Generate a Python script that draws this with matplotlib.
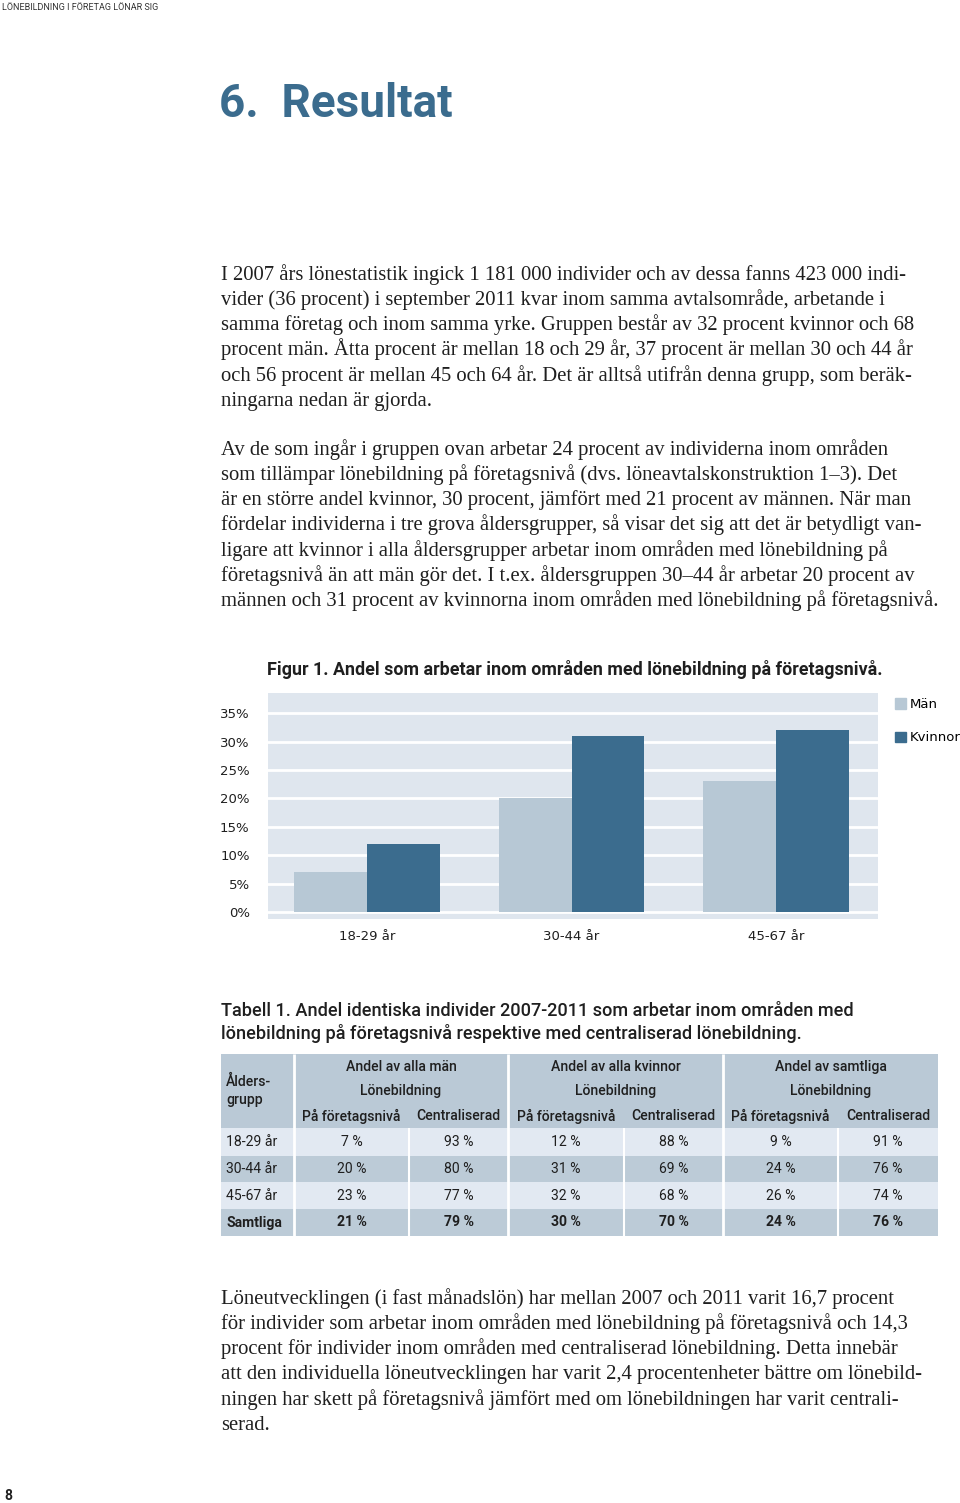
import numpy as np
import matplotlib.pyplot as plt
from matplotlib.patches import Rectangle, Patch

W, H = 960, 1503

# chart data
groups = ["18-29 år", "30-44 år", "45-67 år"]
man = [7, 20, 23]
kvinnor = [12, 31, 32]
yticks = [0, 5, 10, 15, 20, 25, 30, 35]

# table data
row_labels = ["18-29 år", "30-44 år", "45-67 år", "Samtliga"]
man_foretag = [7, 20, 23, 21]
man_central = [93, 80, 77, 79]
kv_foretag = [12, 31, 32, 30]
kv_central = [88, 69, 68, 70]
alla_foretag = [9, 24, 26, 24]
alla_central = [91, 76, 74, 76]
group_heads = ["Andel av alla män", "Andel av alla kvinnor", "Andel av samtliga"]
sub_heads = ["På företagsnivå", "Centraliserad"]

para1 = [
    "I 2007 års lönestatistik ingick 1 181 000 individer och av dessa fanns 423 000 indi-",
    "vider (36 procent) i september 2011 kvar inom samma avtalsområde, arbetande i",
    "samma företag och inom samma yrke. Gruppen består av 32 procent kvinnor och 68",
    "procent män. Åtta procent är mellan 18 och 29 år, 37 procent är mellan 30 och 44 år",
    "och 56 procent är mellan 45 och 64 år. Det är alltså utifrån denna grupp, som beräk-",
    "ningarna nedan är gjorda.",
]
para2 = [
    "Av de som ingår i gruppen ovan arbetar 24 procent av individerna inom områden",
    "som tillämpar lönebildning på företagsnivå (dvs. löneavtalskonstruktion 1–3). Det",
    "är en större andel kvinnor, 30 procent, jämfört med 21 procent av männen. När man",
    "fördelar individerna i tre grova åldersgrupper, så visar det sig att det är betydligt van-",
    "ligare att kvinnor i alla åldersgrupper arbetar inom områden med lönebildning på",
    "företagsnivå än att män gör det. I t.ex. åldersgruppen 30–44 år arbetar 20 procent av",
    "männen och 31 procent av kvinnorna inom områden med lönebildning på företagsnivå.",
]
para3 = [
    "Löneutvecklingen (i fast månadslön) har mellan 2007 och 2011 varit 16,7 procent",
    "för individer som arbetar inom områden med lönebildning på företagsnivå och 14,3",
    "procent för individer inom områden med centraliserad lönebildning. Detta innebär",
    "att den individuella löneutvecklingen har varit 2,4 procentenheter bättre om lönebild-",
    "ningen har skett på företagsnivå jämfört med om lönebildningen har varit centrali-",
    "serad.",
]

blue = "#3b6c8e"
light = "#b7c8d5"
bg = "#dfe6ee"
txt = "#1f1f1f"
sans = "Roboto"
serif = "Liberation Serif"


def fx(x):
    return x / W


def fy(y):
    return 1 - y / H


fig = plt.figure(figsize=(9.6, 15.03), dpi=100)

fig.text(fx(2), fy(7), "LÖNEBILDNING I FÖRETAG LÖNAR SIG", fontsize=6.5,
         family=sans, va="center", color="#333333")
fig.text(fx(219), fy(117), "6.  Resultat", fontsize=33, weight="bold",
         family=sans, color=blue, va="baseline")


def paragraph(lines, y0):
    for i, line in enumerate(lines):
        fig.text(fx(221), fy(y0 + i * 25.15), line, family=serif, fontsize=14.9,
                 color=txt, va="baseline")


paragraph(para1, 280)
paragraph(para2, 455)
paragraph(para3, 1304)

# figure 1
fig.text(fx(267), fy(675), "Figur 1. Andel som arbetar inom områden med lönebildning på företagsnivå.",
         family=sans, weight="bold", fontsize=12.9, color=txt, va="baseline")

ax = fig.add_axes([fx(267.7), fy(919.3), (877.7 - 267.7) / W, (919.3 - 692.7) / H])
x = np.arange(len(groups))
bw = 0.355
ax.bar(x - bw / 2, man, bw, color=light, label="Män", zorder=3)
ax.bar(x + bw / 2, kvinnor, bw, color=blue, label="Kvinnor", zorder=3)
ax.set_facecolor(bg)
ax.set_xlim(-0.486, 2.497)
ax.set_ylim(-1.3, 38.6)
ax.set_yticks(yticks)
ax.set_yticklabels([f"{v}%" for v in yticks])
ax.set_xticks(x)
ax.set_xticklabels(groups)
ax.yaxis.grid(True, color="white", linewidth=2, zorder=1)
ax.set_axisbelow(True)
ax.tick_params(axis="y", length=0, pad=13, labelsize=9.5, labelcolor=txt)
ax.tick_params(axis="x", length=0, pad=8, labelsize=9.5, labelcolor=txt)
for label in ax.get_yticklabels():
    label.set_va("center_baseline")
for s in ax.spines.values():
    s.set_visible(False)
ax.legend(handles=[Patch(color=light, label="Män"), Patch(color=blue, label="Kvinnor")],
          loc="upper left", bbox_to_anchor=(fx(895), fy(698)), bbox_transform=fig.transFigure,
          frameon=False, fontsize=9.5, handlelength=0.85, handleheight=0.85,
          handletextpad=0.3, labelspacing=1.55, borderaxespad=0, borderpad=0)

# table 1
fig.text(fx(221), fy(1016), "Tabell 1. Andel identiska individer 2007-2011 som arbetar inom områden med",
         family=sans, weight="medium", fontsize=13.1, color=txt, va="baseline")
fig.text(fx(221), fy(1039), "lönebildning på företagsnivå respektive med centraliserad lönebildning.",
         family=sans, weight="medium", fontsize=13.1, color=txt, va="baseline")

col_edges = [221, 294, 409, 508, 624, 723, 838, 938]
row_edges = [1054, 1128, 1155.5, 1182, 1209, 1236]
tx = fig.add_axes([fx(221), fy(1236), (938 - 221) / W, (1236 - 1054) / H])
tx.set_xlim(221, 938)
tx.set_ylim(1236, 1054)
tx.axis("off")

hdr_col = "#bac9d6"
row_cols = ["#e2e9f2", "#bccbd7", "#e2e9f2", "#bccbd7"]
tx.add_patch(Rectangle((col_edges[0], row_edges[0]), col_edges[-1] - col_edges[0],
                       row_edges[1] - row_edges[0], color=hdr_col, lw=0))
for r in range(4):
    tx.add_patch(Rectangle((col_edges[0], row_edges[r + 1]), col_edges[-1] - col_edges[0],
                           row_edges[r + 2] - row_edges[r + 1], color=row_cols[r], lw=0))
# white separators
for c in [1, 3, 5]:
    tx.vlines(col_edges[c], row_edges[0], row_edges[-1], color="white", lw=2)
for c in [2, 4, 6]:
    tx.vlines(col_edges[c], row_edges[1], row_edges[-1], color="white", lw=1.5)

fs = 10.1
tx.text(226, 1082, "Ålders-", family=sans, weight="medium", fontsize=fs, va="center", color=txt)
tx.text(226, 1100, "grupp", family=sans, weight="medium", fontsize=fs, va="center", color=txt)
for g, head in enumerate(group_heads):
    c0, c1, c2 = col_edges[1 + 2 * g], col_edges[2 + 2 * g], col_edges[3 + 2 * g]
    tx.text((c0 + c2) / 2, 1067, head, family=sans, weight="medium", fontsize=fs,
            ha="center", va="center", color=txt)
    tx.text((c0 + c2) / 2, 1091, "Lönebildning", family=sans, weight="medium", fontsize=fs,
            ha="center", va="center", color=txt)
    tx.text((c0 + c1) / 2, 1116, sub_heads[0], family=sans, weight="medium", fontsize=fs,
            ha="center", va="center", color=txt)
    tx.text((c1 + c2) / 2, 1116, sub_heads[1], family=sans, weight="medium", fontsize=fs,
            ha="center", va="center", color=txt)

cols = [man_foretag, man_central, kv_foretag, kv_central, alla_foretag, alla_central]
for r, lab in enumerate(row_labels):
    yc = (row_edges[r + 1] + row_edges[r + 2]) / 2
    w = "bold" if lab == "Samtliga" else "normal"
    tx.text(226, yc, lab, family=sans, weight=w, fontsize=fs, va="center", color=txt)
    for c, vals in enumerate(cols):
        xc = (col_edges[c + 1] + col_edges[c + 2]) / 2
        tx.text(xc, yc, f"{vals[r]} %", family=sans, weight=w, fontsize=fs,
                ha="center", va="center", color=txt)

fig.text(fx(4), fy(1500), "8", family=sans, weight="bold", fontsize=10, color=txt, va="baseline")

fig.savefig("out.png", dpi=100, facecolor="white")
